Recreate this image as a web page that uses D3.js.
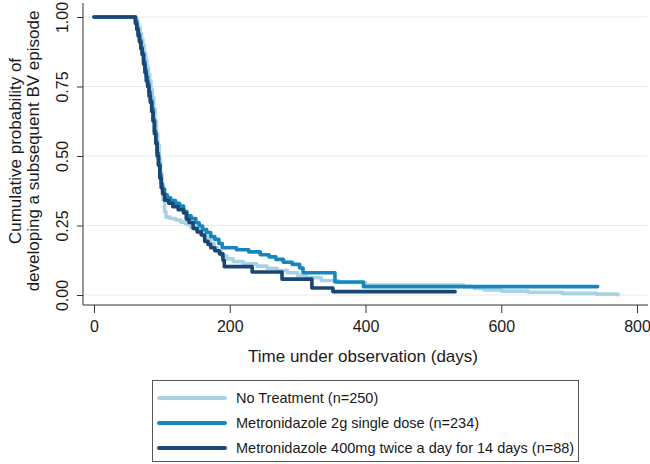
<!DOCTYPE html>
<html><head><meta charset="utf-8">
<script src="https://cdn.jsdelivr.net/npm/d3@7"></script>
<style>
body{margin:0;background:#fff}
svg{display:block}
text{font-family:"Liberation Sans",Arial,sans-serif;fill:#1a1a1a}
</style>
</head><body>
<svg id="chart" width="650" height="464"></svg>
<script>
// ---- data (step-function survival estimates: [day, value after event]) ----
const seriesNames = ["No Treatment (n=250)", "Metronidazole 2g single dose (n=234)", "Metronidazole 400mg twice a day for 14 days (n=88)"];
const seriesColors = ["#a9d3e4", "#1786bd", "#1a4672"];
const noTreatment = [[0,1],[62,0.99],[64,0.975],[66,0.96],[68,0.94],[70,0.92],[72,0.9],[74,0.87],[76,0.845],[78,0.82],[80,0.795],[82,0.77],[84,0.74],[86,0.71],[88,0.67],[90,0.625],[92,0.58],[94,0.54],[96,0.49],[98,0.44],[100,0.39],[102,0.34],[104,0.30],[106,0.28],[112,0.275],[120,0.27],[128,0.262],[135,0.255],[142,0.245],[150,0.235],[156,0.225],[162,0.21],[167,0.2],[172,0.185],[177,0.17],[182,0.155],[188,0.14],[196,0.13],[205,0.12],[220,0.112],[240,0.104],[255,0.096],[270,0.088],[285,0.08],[300,0.07],[313,0.062],[335,0.052],[360,0.045],[400,0.036],[535,0.036],[545,0.03],[560,0.024],[575,0.018],[600,0.014],[640,0.01],[690,0.006],[740,0.003],[772,0.0]];
const metro2g = [[0,1],[61,0.985],[63,0.96],[65,0.94],[67,0.915],[69,0.89],[71,0.87],[73,0.84],[75,0.81],[77,0.785],[79,0.76],[81,0.73],[83,0.70],[85,0.67],[87,0.63],[89,0.59],[91,0.55],[93,0.51],[95,0.47],[97,0.43],[99,0.40],[101,0.38],[104,0.36],[108,0.35],[113,0.34],[120,0.33],[126,0.32],[132,0.30],[137,0.285],[143,0.275],[150,0.26],[155,0.248],[160,0.235],[166,0.225],[172,0.21],[178,0.2],[184,0.185],[189,0.17],[210,0.163],[228,0.155],[245,0.145],[258,0.137],[268,0.128],[279,0.118],[292,0.11],[303,0.097],[308,0.08],[355,0.047],[397,0.03],[742,0.03]];
const metro400 = [[0,1],[61,0.977],[63,0.955],[65,0.932],[67,0.91],[69,0.886],[71,0.864],[73,0.83],[75,0.80],[77,0.77],[79,0.75],[81,0.716],[83,0.693],[85,0.66],[87,0.625],[89,0.58],[91,0.545],[93,0.50],[95,0.466],[97,0.42],[99,0.386],[101,0.364],[104,0.341],[110,0.33],[116,0.318],[124,0.307],[132,0.295],[136,0.273],[140,0.261],[146,0.239],[152,0.227],[158,0.216],[163,0.193],[168,0.182],[172,0.17],[178,0.159],[185,0.148],[190,0.125],[192,0.102],[233,0.083],[277,0.057],[321,0.025],[352,0.012],[532,0.012]];
const xTicks = [0, 200, 400, 600, 800];
const yTicks = [0, 0.25, 0.5, 0.75, 1];
const xTitle = "Time under observation (days)";
const yTitle = ["Cumulative probability of", "developing a subsequent BV episode"];

const svg = d3.select("#chart");
const x = d3.scaleLinear().domain([0, 800]).range([94, 637]);
const y = d3.scaleLinear().domain([0, 1]).range([295, 17]);
const axisX = 83, axisY = 305;

// gridlines
svg.append("g").selectAll("line").data(yTicks).join("line")
  .attr("x1", axisX).attr("x2", 647)
  .attr("y1", d => y(d)).attr("y2", d => y(d))
  .attr("stroke", "#e3ecf0").attr("stroke-width", 1);

// curves
const line = d3.line().x(d => x(d[0])).y(d => y(d[1])).curve(d3.curveStepAfter);
[noTreatment, metro2g, metro400].forEach((s, i) => {
  svg.append("path").datum(s).attr("d", line)
    .attr("fill", "none").attr("stroke", seriesColors[i])
    .attr("stroke-width", 3.6).attr("stroke-linejoin", "round").attr("stroke-linecap", "round");
});

// x axis
const gx = svg.append("g").attr("transform", `translate(0,${axisY})`)
  .call(d3.axisBottom(x).tickValues(xTicks).tickSize(8).tickSizeOuter(0).tickFormat(d3.format("d")));
gx.select(".domain").remove();
gx.selectAll(".tick line").attr("stroke", "#333");
gx.selectAll(".tick text").attr("font-size", 16).attr("font-family", null).attr("dy", "1.0em").attr("fill", "#1a1a1a");
svg.append("line").attr("x1", axisX).attr("x2", 648).attr("y1", axisY).attr("y2", axisY).attr("stroke", "#333");

// y axis
const gy = svg.append("g").attr("transform", `translate(${axisX},0)`)
  .call(d3.axisLeft(y).tickValues(yTicks).tickSize(6).tickSizeOuter(0).tickFormat(d3.format(".2f")));
gy.select(".domain").remove();
gy.selectAll(".tick line").attr("stroke", "#333");
gy.selectAll(".tick text").attr("font-size", 16).attr("font-family", null).attr("fill", "#1a1a1a")
  .attr("transform", "rotate(-90)").attr("x", 0).attr("y", -15).attr("dy", 0).attr("text-anchor", "middle");
svg.append("line").attr("x1", axisX).attr("x2", axisX).attr("y1", 3).attr("y2", axisY).attr("stroke", "#333");

// titles
svg.append("text").attr("x", 363).attr("y", 362).attr("text-anchor", "middle").attr("font-size", 17).text(xTitle);
yTitle.forEach((t, i) => {
  svg.append("text").attr("transform", `translate(${21 + i * 18},151) rotate(-90)`)
    .attr("text-anchor", "middle").attr("font-size", 17).text(t);
});

// legend
const lg = svg.append("g");
lg.append("rect").attr("x", 152.5).attr("y", 380.5).attr("width", 426).attr("height", 81)
  .attr("fill", "#fff").attr("stroke", "#555").attr("stroke-width", 1);
seriesNames.forEach((n, i) => {
  const cy = 398 + i * 25;
  lg.append("line").attr("x1", 159).attr("x2", 225).attr("y1", cy).attr("y2", cy)
    .attr("stroke", seriesColors[i]).attr("stroke-width", 4).attr("stroke-linecap", "round");
  lg.append("text").attr("x", 236).attr("y", cy + 5).attr("font-size", 14.5).text(n);
});
</script>
</body></html>
